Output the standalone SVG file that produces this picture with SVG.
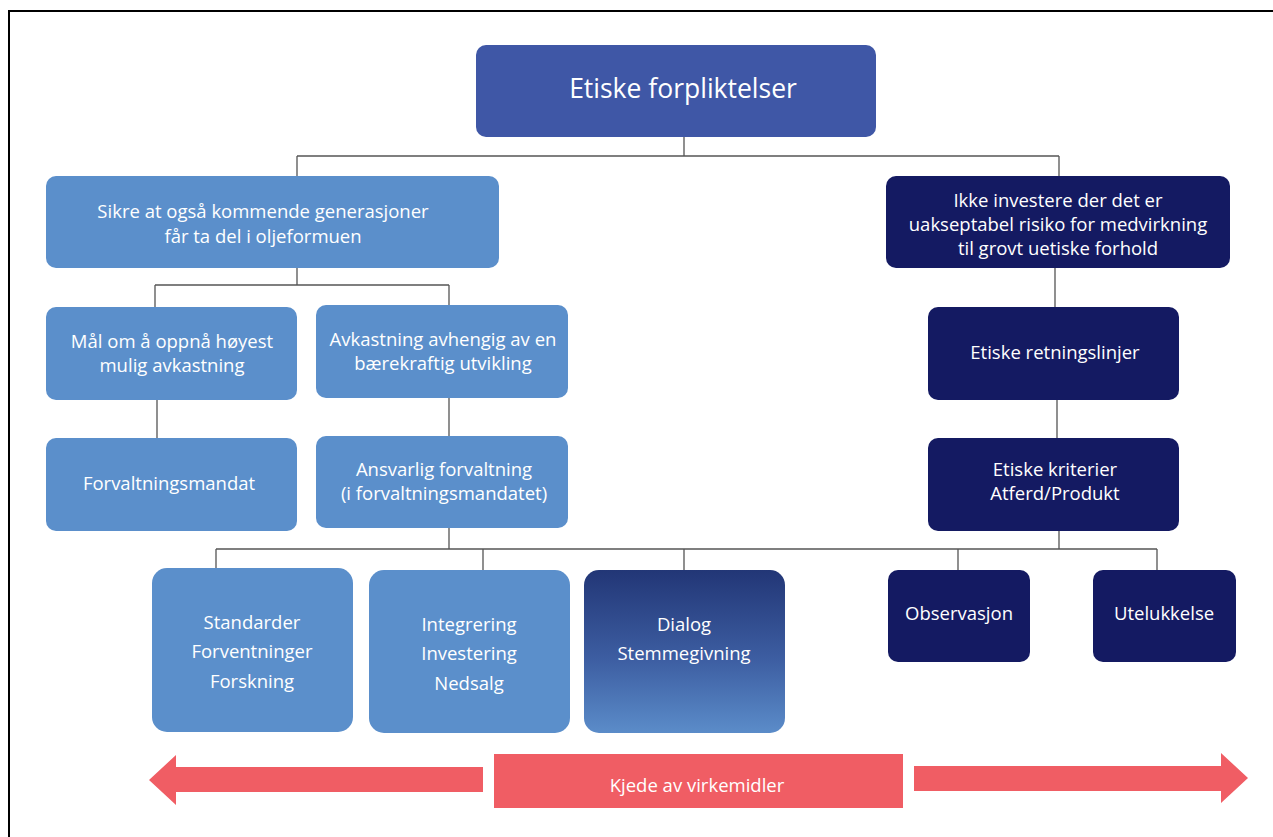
<svg xmlns="http://www.w3.org/2000/svg" width="1273" height="837" viewBox="0 0 1273 837">
<defs>
<linearGradient id="gDialog" x1="0" y1="0" x2="0" y2="1">
<stop offset="0" stop-color="#223676"/>
<stop offset="0.55" stop-color="#3D5EA2"/>
<stop offset="1" stop-color="#5B8CC9"/>
</linearGradient>
<style>
.light{fill:#5B8FCB}
.mid{fill:#3F57A6}
.dark{fill:#141A62}
.red{fill:#F05D64}
.t{font-family:"Open Sans","Liberation Sans",sans-serif;font-size:18.5px;fill:#FFFFFF;text-anchor:middle}
.big{font-size:26.5px}
.c{fill:none;stroke:#555;stroke-width:1.3}
</style>
</defs>
<rect x="9" y="11" width="1280" height="840" fill="#FFFFFF" stroke="#000" stroke-width="2"/>

<g id="connectors">
<path class="c" d="M684 137 V156 M297 156 H1059 M297 156 V176 M1059 156 V176"/>
<path class="c" d="M297 268 V285 M155 285 H449 M155 285 V307 M449 285 V305"/>
<path class="c" d="M157 400 V438 M449 398 V436"/>
<path class="c" d="M1055 268 V307 M1057 400 V438"/>
<path class="c" d="M449 528 V549 M1059 531 V549 M216 549 H1157 M216 549 V568 M483 549 V570 M684 549 V570 M958 549 V570 M1157 549 V570"/>
</g>

<g id="n-top">
<rect class="mid" x="476" y="45" width="400" height="92" rx="10"/>
<text class="t big" x="683" y="98">Etiske forpliktelser</text>
</g>
<g id="n-sikre">
<rect class="light" x="46" y="176" width="453" height="92" rx="10"/>
<text class="t" x="263" y="218">Sikre at også kommende generasjoner</text>
<text class="t" x="263" y="243">får ta del i oljeformuen</text>
</g>
<g id="n-ikke">
<rect class="dark" x="886" y="176" width="344" height="92" rx="10"/>
<text class="t" x="1058" y="207">Ikke investere der det er</text>
<text class="t" x="1058" y="231">uakseptabel risiko for medvirkning</text>
<text class="t" x="1058" y="255">til grovt uetiske forhold</text>
</g>
<g id="n-maal">
<rect class="light" x="46" y="307" width="251" height="93" rx="10"/>
<text class="t" x="172" y="348">Mål om å oppnå høyest</text>
<text class="t" x="172" y="372">mulig avkastning</text>
</g>
<g id="n-avk">
<rect class="light" x="316" y="305" width="252" height="93" rx="10"/>
<text class="t" x="443" y="346">Avkastning avhengig av en</text>
<text class="t" x="443" y="370">bærekraftig utvikling</text>
</g>
<g id="n-forv">
<rect class="light" x="46" y="438" width="251" height="93" rx="10"/>
<text class="t" x="169" y="490">Forvaltningsmandat</text>
</g>
<g id="n-ansv">
<rect class="light" x="316" y="436" width="252" height="92" rx="10"/>
<text class="t" x="444" y="476">Ansvarlig forvaltning</text>
<text class="t" x="444" y="500">(i forvaltningsmandatet)</text>
</g>
<g id="n-retn">
<rect class="dark" x="928" y="307" width="251" height="93" rx="10"/>
<text class="t" x="1055" y="359">Etiske retningslinjer</text>
</g>
<g id="n-krit">
<rect class="dark" x="928" y="438" width="251" height="93" rx="10"/>
<text class="t" x="1055" y="476">Etiske kriterier</text>
<text class="t" x="1055" y="500">Atferd/Produkt</text>
</g>
<g id="n-std">
<rect class="light" x="152" y="568" width="201" height="164" rx="15"/>
<text class="t" x="252" y="629">Standarder</text>
<text class="t" x="252" y="658">Forventninger</text>
<text class="t" x="252" y="688">Forskning</text>
</g>
<g id="n-int">
<rect class="light" x="369" y="570" width="201" height="163" rx="15"/>
<text class="t" x="469" y="631">Integrering</text>
<text class="t" x="469" y="660">Investering</text>
<text class="t" x="469" y="690">Nedsalg</text>
</g>
<g id="n-dialog">
<rect fill="url(#gDialog)" x="584" y="570" width="201" height="163" rx="15"/>
<text class="t" x="684" y="631">Dialog</text>
<text class="t" x="684" y="660">Stemmegivning</text>
</g>
<g id="n-obs">
<rect class="dark" x="888" y="570" width="142" height="92" rx="10"/>
<text class="t" x="959" y="620">Observasjon</text>
</g>
<g id="n-ute">
<rect class="dark" x="1093" y="570" width="143" height="92" rx="10"/>
<text class="t" x="1164" y="620">Utelukkelse</text>
</g>

<g id="n-kjede">
<polygon class="red" points="149,780 176,755 176,767 483,767 483,792 176,792 176,805"/>
<rect class="red" x="494" y="754" width="409" height="54"/>
<text class="t" x="697" y="792">Kjede av virkemidler</text>
<polygon class="red" points="1248,778 1221,753 1221,766 914,766 914,791 1221,791 1221,803"/>
</g>
</svg>
